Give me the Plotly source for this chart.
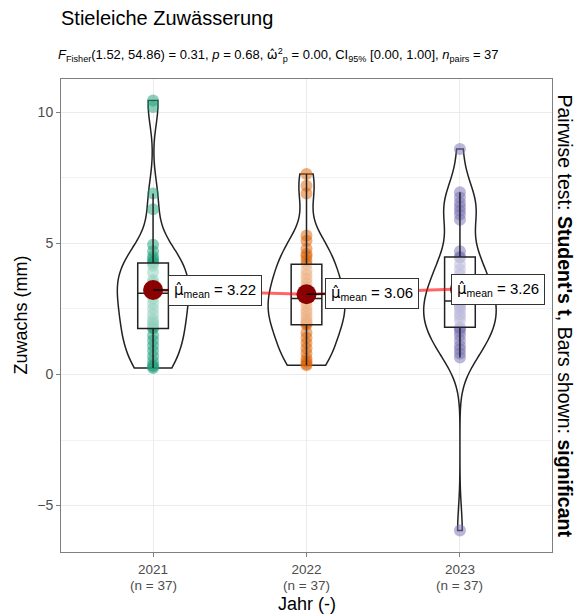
import numpy as np
import plotly.graph_objects as go

# ---------------- data ----------------
years = ["2021", "2022", "2023"]
zuwachs_2021 = [0.25, 0.3, 0.35, 0.5, 0.7, 0.9, 1.1, 1.3, 1.5,
                1.75, 1.8, 1.9, 2.0, 2.1, 2.3, 2.5, 2.7, 2.9,
                3.1, 3.2, 3.25, 3.3, 3.4, 3.5, 3.6, 3.9, 4.15,
                4.25, 4.3, 4.4, 4.5, 4.7, 4.95, 6.3, 6.9, 10.2, 10.45]
zuwachs_2022 = [0.35, 0.4, 0.5, 0.6, 0.8, 1.0, 1.2, 1.4, 1.6,
                1.9, 1.95, 2.0, 2.1, 2.2, 2.35, 2.45, 2.6, 2.75,
                2.9, 3.0, 3.1, 3.2, 3.35, 3.5, 3.65, 3.8, 3.97,
                4.2, 4.35, 4.5, 4.6, 4.8, 5.1, 5.3, 6.9, 7.2, 7.65]
zuwachs_2023 = [-5.95, 0.65, 0.8, 0.95, 1.1, 1.3, 1.5, 1.65, 1.75,
                1.8, 2.05, 2.2, 2.3, 2.45, 2.55, 2.62, 2.7, 2.77,
                2.8, 3.15, 3.3, 3.45, 3.6, 3.8, 4.0, 4.2, 4.45,
                4.48, 4.7, 5.9, 6.1, 6.25, 6.4, 6.55, 6.75, 6.95, 8.6]
groups = [zuwachs_2021, zuwachs_2022, zuwachs_2023]

title_text = "Stieleiche Zuwässerung"
subtitle_text = ("<i>F</i><sub>Fisher</sub>(1.52, 54.86) = 0.31, <i>p</i> = 0.68, "
                 "<span style='font-family:DejaVu Sans'>ω̂</span><sup>2</sup><sub>p</sub> = 0.00, "
                 "CI<sub>95%</sub> [0.00, 1.00], <i>n</i><sub>pairs</sub> = 37")
x_title = "Jahr (-)"
y_title = "Zuwachs (mm)"
right_title = "Pairwise test: <b>Student's t</b>, Bars shown: <b>significant</b>"

# ---------------- styles ----------------
colors = ["#1B9E77", "#D95F02", "#7570B3"]
point_rgba = ["rgba(27,158,119,0.5)", "rgba(217,95,2,0.5)", "rgba(117,112,179,0.5)"]
label_offsets = [(62, 0), (65, -1), (38, 0)]
FONT = "Liberation Sans, Arial, sans-serif"


def bw_nrd0(v):
    v = np.asarray(v, float)
    sd = np.std(v, ddof=1)
    q1, q3 = np.percentile(v, [25, 75])
    lo = min(sd, (q3 - q1) / 1.34)
    return 0.9 * lo * len(v) ** -0.2


def kde_peak(v, bw):
    v = np.asarray(v, float)
    g = np.linspace(v.min(), v.max(), 512)
    d = np.exp(-0.5 * ((g[:, None] - v[None, :]) / bw) ** 2).sum(1)
    d /= len(v) * bw * np.sqrt(2 * np.pi)
    return d.max()


bws = [bw_nrd0(v) for v in groups]
peaks = [kde_peak(v, b) for v, b in zip(groups, bws)]
vwidths = [0.5 * p / max(peaks) for p in peaks]
means = [float(np.mean(v)) for v in groups]
xs = [1, 2, 3]

fig = go.Figure()

# points (as box-trace points so the box can be drawn above them)
for i, v in enumerate(groups):
    fig.add_trace(go.Box(
        x=[xs[i]] * len(v), y=v, boxpoints="all", jitter=0, pointpos=0,
        fillcolor="rgba(0,0,0,0)", line=dict(width=0, color="rgba(0,0,0,0)"),
        marker=dict(color=point_rgba[i], size=12, line=dict(width=0)),
        width=0.2, showlegend=False, hoverinfo="skip"))

# box plots (stats from data)
for i, v in enumerate(groups):
    a = np.asarray(v, float)
    q1, med, q3 = np.percentile(a, [25, 50, 75])
    iqr = q3 - q1
    lf = a[a >= q1 - 1.5 * iqr].min()
    uf = a[a <= q3 + 1.5 * iqr].max()
    fig.add_trace(go.Box(
        x=[xs[i]], q1=[q1], median=[med], q3=[q3], lowerfence=[lf], upperfence=[uf],
        width=0.2, whiskerwidth=0, boxpoints=False,
        fillcolor="rgba(255,255,255,0.5)", line=dict(color="#222222", width=1.5),
        showlegend=False, hoverinfo="skip"))

# violins
for i, v in enumerate(groups):
    fig.add_trace(go.Violin(
        x=[xs[i]] * len(v), y=v, width=vwidths[i], bandwidth=bws[i],
        spanmode="hard", points=False, box_visible=False, meanline_visible=False,
        fillcolor="rgba(255,255,255,0.2)", line=dict(color="#222222", width=1.5),
        scalemode="width", showlegend=False, hoverinfo="skip"))

# centrality path
fig.add_trace(go.Scatter(x=xs, y=means, mode="lines",
                         line=dict(color="rgba(255,0,0,0.6)", width=3),
                         showlegend=False, hoverinfo="skip"))
fig.add_trace(go.Scatter(x=xs, y=means, mode="markers",
                         marker=dict(color="#8B0000", size=20),
                         showlegend=False, hoverinfo="skip"))

# mean labels
for i, m in enumerate(means):
    fig.add_annotation(
        x=xs[i], y=m, xref="x", yref="y",
        text=f"<span style='font-family:DejaVu Sans'>μ̂</span><sub>mean</sub> = {m:.2f}",
        showarrow=True, arrowhead=0, arrowwidth=1.5, arrowcolor="black", standoff=0,
        ax=label_offsets[i][0], ay=label_offsets[i][1],
        bgcolor="white", bordercolor="#333333", borderwidth=1, borderpad=5,
        font=dict(family=FONT, size=15, color="black"))

# x tick sub-labels (group sizes)
for i, v in enumerate(groups):
    fig.add_annotation(text=f"(n = {len(v)})", x=xs[i], xref="x", yref="paper", y=0,
                       xanchor="center", yanchor="middle", yshift=-33, showarrow=False,
                       font=dict(family=FONT, size=13.5, color="#4D4D4D"))

# titles
fig.add_annotation(text=title_text, xref="paper", yref="paper", x=0, y=1,
                   xanchor="left", yanchor="middle", xshift=-2, yshift=61,
                   showarrow=False, font=dict(family=FONT, size=20, color="black"))
fig.add_annotation(text=subtitle_text, xref="paper", yref="paper", x=0, y=1,
                   xanchor="left", yanchor="middle", xshift=-5, yshift=24,
                   showarrow=False, font=dict(family=FONT, size=13, color="black"))
fig.add_annotation(text=x_title, xref="paper", yref="paper", x=0.5, y=0,
                   xanchor="center", yanchor="middle", yshift=-52,
                   showarrow=False, font=dict(family=FONT, size=18, color="black"))
fig.add_annotation(text=y_title, xref="paper", yref="paper", x=0, y=0.5,
                   xanchor="center", yanchor="middle", xshift=-41, textangle=-90,
                   showarrow=False, font=dict(family=FONT, size=18, color="black"))
fig.add_annotation(text=right_title, xref="paper", yref="paper", x=1, y=0.5,
                   xanchor="center", yanchor="middle", xshift=13, textangle=90,
                   showarrow=False, font=dict(family=FONT, size=19.5, color="black"))

allv = np.concatenate([np.asarray(v, float) for v in groups])
lo, hi = allv.min(), allv.max()
pad = 0.05 * (hi - lo)

fig.update_layout(
    width=576, height=614, margin=dict(l=61, r=24, t=79, b=62),
    paper_bgcolor="white", plot_bgcolor="white",
    boxmode="overlay", violinmode="overlay", showlegend=False,
    font=dict(family=FONT),
)
fig.update_xaxes(
    range=[0.4, 3.6], tickmode="array", tickvals=xs, ticktext=years,
    tickfont=dict(family=FONT, size=13.5, color="#4D4D4D"), ticklabelstandoff=1,
    showgrid=True, gridcolor="#EBEBEB", gridwidth=1, zeroline=False,
    showline=True, linecolor="#7F7F7F", linewidth=1, mirror=True,
    ticks="outside", ticklen=4, tickcolor="#7F7F7F")
fig.update_yaxes(
    range=[lo - pad, hi + pad], dtick=5, tick0=0,
    tickfont=dict(family=FONT, size=14, color="#4D4D4D"),
    showgrid=True, gridcolor="#EBEBEB", gridwidth=1, zeroline=False,
    minor=dict(dtick=2.5, tick0=0, showgrid=True, gridcolor="#F2F2F2", gridwidth=1),
    showline=True, linecolor="#7F7F7F", linewidth=1, mirror=True,
    ticks="outside", ticklen=4, tickcolor="#7F7F7F")

fig.write_html("out.html")
